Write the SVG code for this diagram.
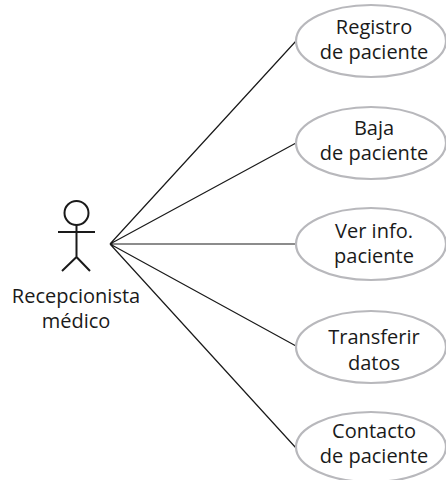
<svg xmlns="http://www.w3.org/2000/svg" width="446" height="480" viewBox="0 0 446 480">
<style>
.u{fill:#fff;stroke:#b8b8bc;stroke-width:2.2}
.c{fill:none;stroke:#1a1a1a;stroke-width:1.2}
.a{fill:none;stroke:#1a1a1a;stroke-width:2}
text{font-family:"Open Sans",sans-serif;font-size:20px;fill:#1a1a1a;text-anchor:middle}
</style>
<rect width="446" height="480" fill="#fff"/>
<g id="connectors">
<path class="c" d="M110 244L296 41M110 244L296 143M110 244H296M110 244L296 346M110 244L296 448"/>
</g>
<g id="actor">
<circle class="a" cx="76.500" cy="213" r="12"/>
<path class="a" d="M76.500 225V257M58 232H95M76.500 257L62 271M76.500 257L90 271"/>
<text x="76" y="303">Recepcionista</text>
<text x="76" y="328">médico</text>
</g>
<g id="uc1"><ellipse class="u" cx="371" cy="41" rx="75" ry="36"/><text x="374" y="34">Registro</text><text x="374" y="59">de paciente</text></g>
<g id="uc2"><ellipse class="u" cx="371" cy="143" rx="75" ry="36"/><text x="374" y="135">Baja</text><text x="374" y="160">de paciente</text></g>
<g id="uc3"><ellipse class="u" cx="371" cy="244" rx="75" ry="36"/><text x="374" y="238">Ver info.</text><text x="374" y="263">paciente</text></g>
<g id="uc4"><ellipse class="u" cx="371" cy="347" rx="75" ry="36"/><text x="374" y="344">Transferir</text><text x="374" y="370">datos</text></g>
<g id="uc5"><ellipse class="u" cx="371" cy="447" rx="75" ry="35"/><text x="374" y="438">Contacto</text><text x="374" y="463">de paciente</text></g>
</svg>
